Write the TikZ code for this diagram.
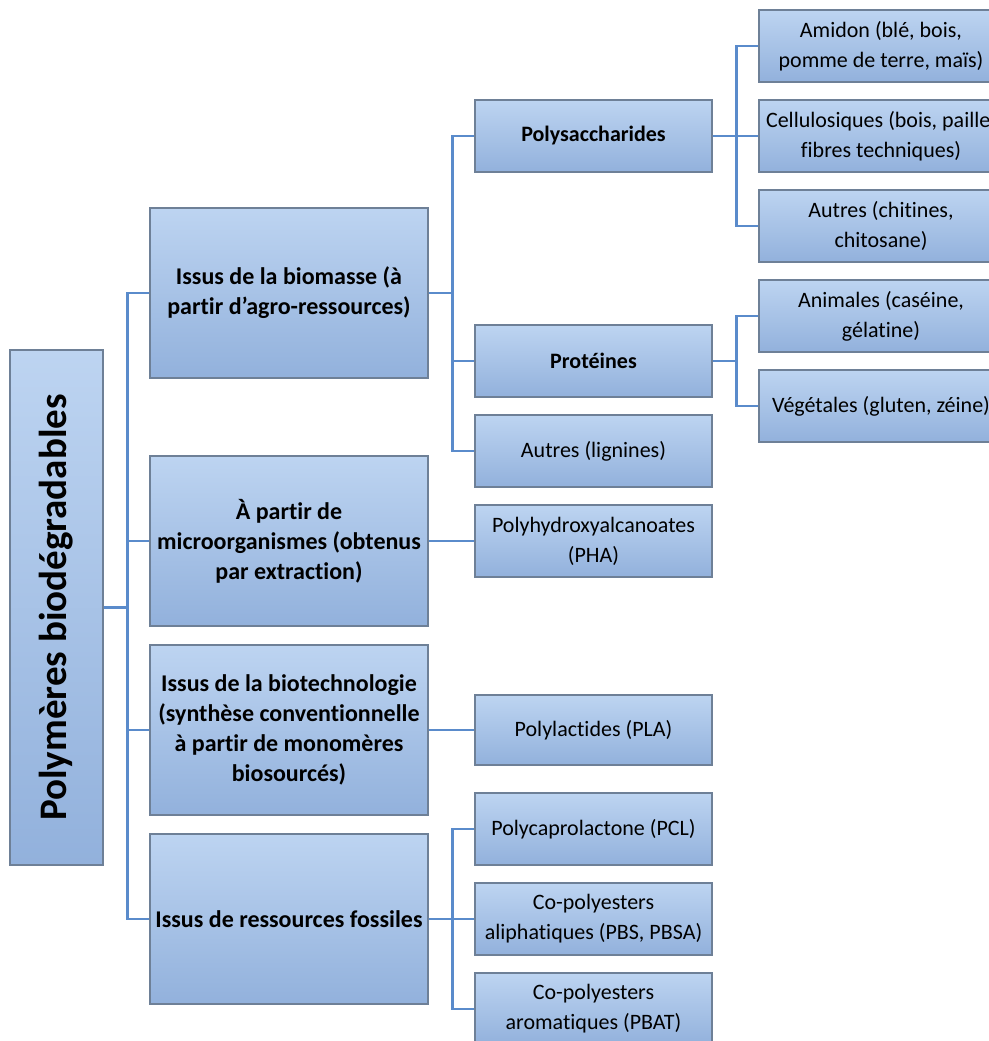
\documentclass[tikz,border=0pt]{standalone}
\usepackage{fontspec}
\setmainfont{Carlito}[Ligatures=NoCommon]
\usepackage{xcolor}
\usepackage{tikz}
\definecolor{boxtop}{HTML}{BDD4F1}
\definecolor{boxbot}{HTML}{92B1DC}
\definecolor{boxline}{HTML}{6E8097}
\definecolor{linkblue}{HTML}{5A8BCB}

\tikzset{
	box/.style={draw=boxline, line width=1.2pt, top color=boxtop, bottom color=boxbot,
		align=center, inner sep=2pt, font=\fontsize{22}{30}\selectfont},
	rootbox/.style={box, minimum width=93pt, minimum height=515pt},
	catbox/.style={box, minimum width=278pt, minimum height=170pt, font=\fontsize{24}{30}\selectfont\bfseries},
	fambox/.style={box, minimum width=237pt, minimum height=72pt},
	srcbox/.style={box, minimum width=244pt, minimum height=72pt},
	link/.style={draw=linkblue, line width=2.6pt},
}

\begin{document}
\begin{tikzpicture}[x=1pt, y=-1pt]
	\useasboundingbox (0,0) rectangle (988,1041);
	% racine
	\node[rootbox] (root) at (56.5,607.5) {};
	\node[rotate=90, font=\fontsize{39}{42}\selectfont\bfseries] (rootlbl) at (root.center) {Polymères biodégradables};
	% niveau 1
	\node[catbox] (bio) at (289,293) {Issus de la biomasse (à\\partir d’agro-ressources)};
	\node[catbox] (micro) at (289,541) {À partir de\\microorganismes (obtenus\\par extraction)};
	\node[catbox] (biotech) at (289,730) {Issus de la biotechnologie\\(synthèse conventionnelle\\à partir de monomères\\biosourcés)};
	\node[catbox] (fossil) at (289,919) {Issus de ressources fossiles};
	% niveau 2
	\node[fambox, font=\fontsize{22}{30}\selectfont\bfseries] (polysac) at (593.5,136) {Polysaccharides};
	\node[fambox, font=\fontsize{22}{30}\selectfont\bfseries] (prot) at (593.5,361) {Protéines};
	\node[fambox] (lign) at (593.5,451) {Autres (lignines)};
	\node[fambox] (pha) at (593.5,541) {Polyhydroxyalcanoates\\(PHA)};
	\node[fambox, minimum height=70pt] (pla) at (593.5,730) {Polylactides (PLA)};
	\node[fambox] (pcl) at (593.5,829) {Polycaprolactone (PCL)};
	\node[fambox] (pbs) at (593.5,919) {Co-polyesters\\aliphatiques (PBS, PBSA)};
	\node[fambox] (pbat) at (593.5,1009) {Co-polyesters\\aromatiques (PBAT)};
	% niveau 3
	\node[srcbox] (amidon) at (881,46) {Amidon (blé, bois,\\pomme de terre, maïs)};
	\node[srcbox] (cellu) at (881,136) {Cellulosiques (bois, paille,\\fibres techniques)};
	\node[srcbox] (chit) at (881,226) {Autres (chitines,\\chitosane)};
	\node[srcbox] (anim) at (881,316) {Animales (caséine,\\gélatine)};
	\node[srcbox] (veget) at (881,406) {Végétales (gluten, zéine)};
	% liaisons
	\foreach \n in {bio,micro,biotech,fossil}
		\draw[link] (root.east) -- ++(24,0) |- (\n.west);
	\foreach \n in {polysac,prot,lign}
		\draw[link] (bio.east) -- ++(24,0) |- (\n.west);
	\draw[link] (micro.east) -- (pha.west);
	\draw[link] (biotech.east) -- (pla.west);
	\foreach \n in {pcl,pbs,pbat}
		\draw[link] (fossil.east) -- ++(24,0) |- (\n.west);
	\foreach \n in {amidon,cellu,chit}
		\draw[link] (polysac.east) -- ++(24,0) |- (\n.west);
	\foreach \n in {anim,veget}
		\draw[link] (prot.east) -- ++(24,0) |- (\n.west);
\end{tikzpicture}
\end{document}
